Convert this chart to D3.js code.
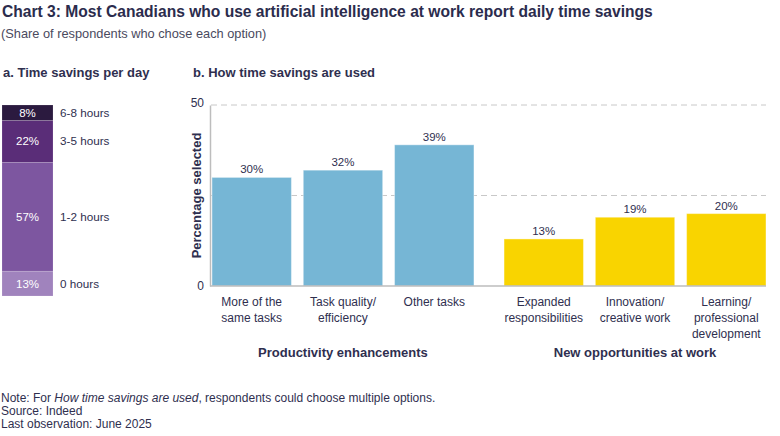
<!DOCTYPE html>
<html>
<head>
<meta charset="utf-8">
<script src="https://cdn.jsdelivr.net/npm/d3@7"></script>
<style>
  body { margin: 0; background: #fff; }
  text { font-family: "Liberation Sans", Arial, sans-serif; fill: #2f2f4f; }
</style>
</head>
<body>
<script>
// a. time savings per day (bottom to top)
var savingsLabels = ['0 hours', '1-2 hours', '3-5 hours', '6-8 hours'];
var savingsValues = [13, 57, 22, 8];
var savingsColors = ['#a083bd', '#7d56a0', '#5a2d78', '#2b1a3f'];

// b. how time savings are used
var groups = ['Productivity enhancements', 'New opportunities at work'];
var uses = [
  ['More of the', 'same tasks'],
  ['Task quality/', 'efficiency'],
  ['Other tasks'],
  ['Expanded', 'responsibilities'],
  ['Innovation/', 'creative work'],
  ['Learning/', 'professional', 'development']
];
var useGroup = [0, 0, 0, 1, 1, 1];
var useValues = [30, 32, 39, 13, 19, 20];
var groupColors = ['#76b6d5', '#f9d400'];
var yTicks = [0, 25, 50];

var W = 780, H = 436;
var svg = d3.select('body').append('svg').attr('width', W).attr('height', H);

// titles
svg.append('text').attr('x', 2).attr('y', 17)
  .style('font-size', '15.6px').style('font-weight', 'bold').style('fill', '#2b2c4d')
  .text('Chart 3: Most Canadians who use artificial intelligence at work report daily time savings');
svg.append('text').attr('x', 1).attr('y', 38)
  .style('font-size', '12.8px').style('fill', '#4a4a5e')
  .text('(Share of respondents who chose each option)');
svg.append('text').attr('x', 3).attr('y', 77)
  .style('font-size', '13px').style('font-weight', 'bold')
  .text('a. Time savings per day');
svg.append('text').attr('x', 193).attr('y', 77)
  .style('font-size', '13px').style('font-weight', 'bold')
  .text('b. How time savings are used');

/* a. stacked bar */
var stackRows = [{}];
savingsLabels.forEach(function(k, i) { stackRows[0][k] = savingsValues[i]; });
var series = d3.stack().keys(savingsLabels)(stackRows);
var ya = d3.scaleLinear().domain([0, 100]).range([296, 105]);
var ga = svg.append('g');
ga.selectAll('rect').data(series).join('rect')
  .attr('x', 2).attr('width', 51)
  .attr('y', function(d) { return ya(d[0][1]); })
  .attr('height', function(d) { return ya(d[0][0]) - ya(d[0][1]); })
  .attr('fill', function(d, i) { return savingsColors[i]; })
  .attr('stroke', '#ffffff').attr('stroke-opacity', 0.25).attr('stroke-width', 0.6);
ga.selectAll('text.val').data(series).join('text')
  .attr('class', 'val')
  .attr('x', 27.5)
  .attr('y', function(d) { return (ya(d[0][0]) + ya(d[0][1])) / 2 + 4; })
  .attr('text-anchor', 'middle')
  .style('font-size', '11.5px').style('fill', '#ffffff')
  .text(function(d, i) { return savingsValues[i] + '%'; });
ga.selectAll('text.lab').data(series).join('text')
  .attr('class', 'lab')
  .attr('x', 60)
  .attr('y', function(d) { return (ya(d[0][0]) + ya(d[0][1])) / 2 + 4; })
  .style('font-size', '11.7px')
  .text(function(d) { return d.key; });
// the 3-5 hours label sits a bit lower in the original
ga.selectAll('text.lab').filter(function(d) { return d.key === '3-5 hours'; })
  .attr('y', 145);

/* b. grouped bars */
var y = d3.scaleLinear().domain([0, 50]).range([286, 105]);
var xg = d3.scaleBand().domain([0, 1]).range([212, 766]).paddingInner(0.103);
var xi = d3.scaleBand().domain([0, 1, 2]).range([0, xg.bandwidth()]).paddingInner(0.13);
function barX(i) { return xg(useGroup[i]) + xi(i % 3); }

var gb = svg.append('g');
// grid
gb.selectAll('line.grid').data(yTicks.filter(function(t) { return t > 0; })).join('line')
  .attr('class', 'grid')
  .attr('x1', 211).attr('x2', 766)
  .attr('y1', function(d) { return y(d); }).attr('y2', function(d) { return y(d); })
  .attr('stroke', '#c8c8c8').attr('stroke-width', 1).attr('stroke-dasharray', '6,4');

// bars
gb.selectAll('rect').data(useValues).join('rect')
  .attr('x', function(d, i) { return barX(i); })
  .attr('width', xi.bandwidth())
  .attr('y', function(d) { return y(d); })
  .attr('height', function(d) { return y(0) - y(d); })
  .attr('fill', function(d, i) { return groupColors[useGroup[i]]; })
  .attr('stroke', '#ffffff').attr('stroke-opacity', 0.4).attr('stroke-width', 1);

gb.selectAll('text.val').data(useValues).join('text')
  .attr('class', 'val')
  .attr('x', function(d, i) { return barX(i) + xi.bandwidth() / 2; })
  .attr('y', function(d) { return y(d) - 4; })
  .attr('text-anchor', 'middle')
  .style('font-size', '11.5px')
  .text(function(d) { return d + '%'; });

// axes
var yAxis = d3.axisLeft(y).tickValues([0, 50]).tickSize(0).tickPadding(6);
var ya_g = gb.append('g').attr('transform', 'translate(210,0)').call(yAxis);
ya_g.select('.domain').attr('stroke', '#bdbdbd').attr('stroke-width', 1.5);
ya_g.selectAll('text').style('font-size', '12px').style('fill', '#2f2f4f')
  .attr('font-family', null);
ya_g.selectAll('.tick').filter(function(d) { return d === 50; }).select('text').attr('dy', '0.1em');

gb.append('line')
  .attr('x1', 210).attr('x2', 766).attr('y1', y(0)).attr('y2', y(0))
  .attr('stroke', '#bdbdbd').attr('stroke-width', 1.5);

gb.append('text')
  .attr('transform', 'translate(201,' + y(25) + ') rotate(-90)')
  .attr('text-anchor', 'middle')
  .style('font-size', '13px').style('font-weight', 'bold')
  .text('Percentage selected');

// category labels
var cat = gb.selectAll('text.cat').data(uses).join('text')
  .attr('class', 'cat')
  .attr('text-anchor', 'middle')
  .attr('x', function(d, i) { return barX(i) + xi.bandwidth() / 2; })
  .attr('y', 306)
  .style('font-size', '12px');
cat.selectAll('tspan').data(function(d) { return d; }).join('tspan')
  .attr('x', function() { return d3.select(this.parentNode).attr('x'); })
  .attr('dy', function(d, j) { return j === 0 ? 0 : 16; })
  .text(function(d) { return d; });

gb.selectAll('text.grp').data(groups).join('text')
  .attr('class', 'grp')
  .attr('text-anchor', 'middle')
  .attr('x', function(d, i) { return xg(i) + xg.bandwidth() / 2; })
  .attr('y', 357)
  .style('font-size', '13px').style('font-weight', 'bold')
  .text(function(d) { return d; });

// footer
var note = svg.append('text').attr('x', 1).attr('y', 402).style('font-size', '12px');
note.append('tspan').text('Note: For ');
note.append('tspan').style('font-style', 'italic').text('How time savings are used');
note.append('tspan').text(', respondents could choose multiple options.');
svg.append('text').attr('x', 1).attr('y', 415).style('font-size', '12px').text('Source: Indeed');
svg.append('text').attr('x', 1).attr('y', 428).style('font-size', '12px').text('Last observation: June 2025');
</script>
</body>
</html>
